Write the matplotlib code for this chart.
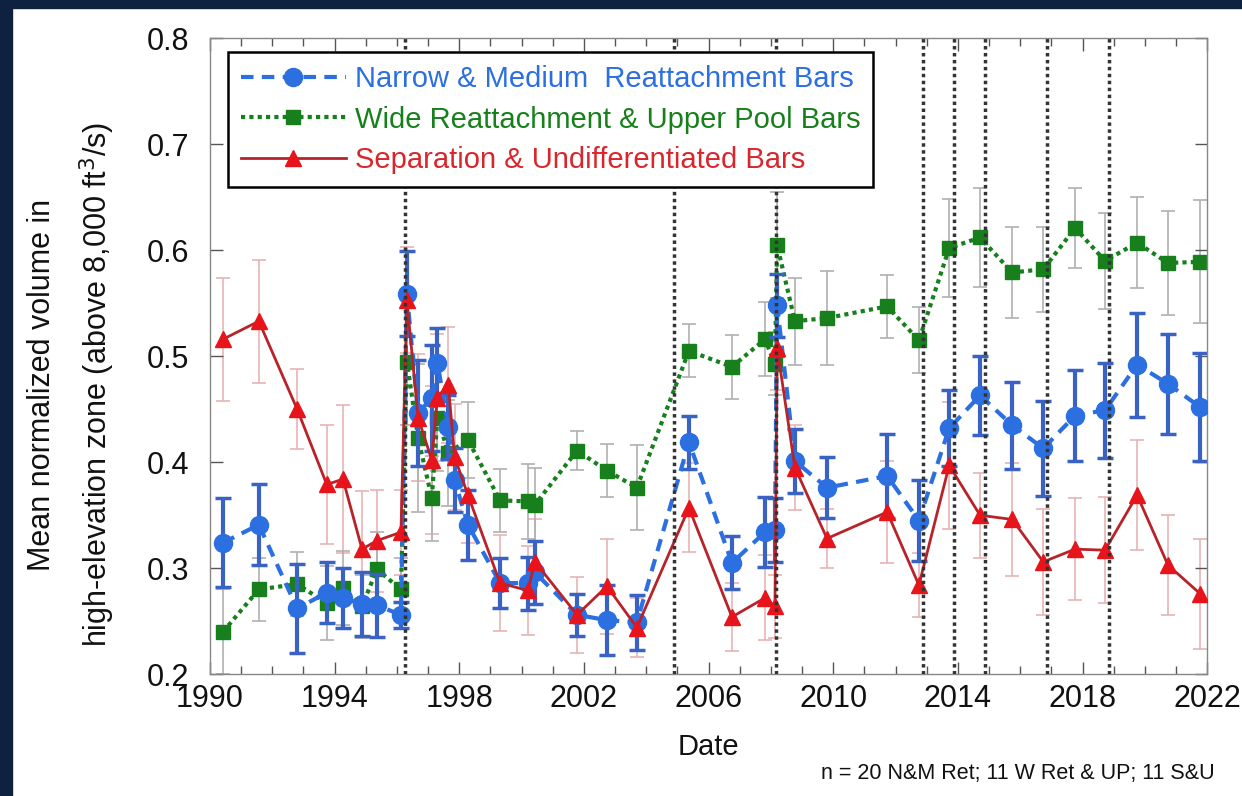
import matplotlib
matplotlib.use("Agg")
import matplotlib.pyplot as plt
from matplotlib.lines import Line2D
from matplotlib.patches import Rectangle

plt.rcParams['font.family'] = ['Liberation Sans', 'DejaVu Sans']

# -----------------------------
# data
# -----------------------------
nm_dates = [1990.42, 1991.57, 1992.80, 1993.75, 1994.27, 1994.88, 1995.36, 1996.13,
            1996.32, 1996.68, 1997.12, 1997.30, 1997.65, 1997.85, 1998.28, 1999.31,
            2000.20, 2000.43, 2001.78, 2002.74, 2003.70, 2005.37, 2006.75, 2007.81,
            2008.13, 2008.20, 2008.77, 2009.80, 2011.73, 2012.75, 2013.72, 2014.71,
            2015.74, 2016.74, 2017.76, 2018.72, 2019.75, 2020.74, 2021.77]
nm_vals = [0.324, 0.341, 0.262, 0.277, 0.272, 0.266, 0.265, 0.256, 0.559, 0.446,
           0.461, 0.494, 0.433, 0.383, 0.341, 0.286, 0.286, 0.296, 0.256, 0.251,
           0.249, 0.419, 0.305, 0.334, 0.336, 0.548, 0.401, 0.376, 0.387, 0.345,
           0.432, 0.463, 0.435, 0.413, 0.444, 0.449, 0.492, 0.474, 0.452]
nm_err = [0.042, 0.038, 0.042, 0.029, 0.028, 0.030, 0.030, 0.012, 0.040, 0.050,
          0.050, 0.033, 0.030, 0.030, 0.033, 0.024, 0.025, 0.030, 0.020, 0.033,
          0.026, 0.025, 0.025, 0.033, 0.030, 0.030, 0.030, 0.029, 0.040, 0.038,
          0.036, 0.037, 0.041, 0.045, 0.043, 0.045, 0.049, 0.047, 0.051]

wr_dates = [1990.42, 1991.57, 1992.80, 1993.75, 1994.27, 1994.88, 1995.36, 1996.13,
            1996.32, 1996.68, 1997.12, 1997.30, 1997.65, 1998.28, 1999.31, 2000.20,
            2000.43, 2001.78, 2002.74, 2003.70, 2005.37, 2006.75, 2007.81, 2008.13,
            2008.20, 2008.77, 2009.80, 2011.73, 2012.75, 2013.72, 2014.71, 2015.74,
            2016.74, 2017.76, 2018.72, 2019.75, 2020.74, 2021.77]
wr_vals = [0.240, 0.280, 0.285, 0.267, 0.281, 0.264, 0.299, 0.280, 0.495, 0.423,
           0.366, 0.442, 0.409, 0.421, 0.364, 0.363, 0.360, 0.411, 0.392, 0.376,
           0.505, 0.490, 0.516, 0.493, 0.605, 0.533, 0.536, 0.547, 0.515, 0.602,
           0.612, 0.579, 0.582, 0.621, 0.590, 0.607, 0.588, 0.589]
wr_err = [0.040, 0.030, 0.030, 0.035, 0.035, 0.030, 0.035, 0.030, 0.060, 0.070,
          0.040, 0.050, 0.050, 0.036, 0.030, 0.035, 0.035, 0.018, 0.025, 0.040,
          0.025, 0.030, 0.035, 0.030, 0.050, 0.041, 0.044, 0.030, 0.031, 0.046,
          0.047, 0.043, 0.040, 0.038, 0.045, 0.043, 0.049, 0.058]

su_dates = nm_dates
su_vals = [0.516, 0.533, 0.450, 0.379, 0.384, 0.318, 0.326, 0.334, 0.553, 0.442,
           0.402, 0.461, 0.473, 0.405, 0.369, 0.286, 0.279, 0.306, 0.256, 0.283,
           0.244, 0.357, 0.254, 0.272, 0.264, 0.508, 0.395, 0.328, 0.353, 0.284,
           0.397, 0.350, 0.346, 0.306, 0.318, 0.317, 0.369, 0.303, 0.276]
su_err = [0.058, 0.058, 0.038, 0.056, 0.070, 0.055, 0.048, 0.040, 0.050, 0.060,
          0.070, 0.060, 0.055, 0.050, 0.045, 0.045, 0.042, 0.040, 0.036, 0.045,
          0.028, 0.042, 0.032, 0.040, 0.030, 0.040, 0.040, 0.028, 0.048, 0.030,
          0.060, 0.040, 0.053, 0.050, 0.048, 0.050, 0.052, 0.047, 0.052]

# high-flow experiments (vertical dotted lines)
hfe_dates = [1996.26, 2004.89, 2008.16, 2012.88, 2013.87, 2014.86, 2016.86, 2018.84]

labels = ["Narrow & Medium  Reattachment Bars",
          "Wide Reattachment & Upper Pool Bars",
          "Separation & Undifferentiated Bars"]

# -----------------------------
# colours
# -----------------------------
blue = "#2b6fe0"
blue_err = "#3a62c4"
green = "#17801c"
red_mk = "#e8141c"
red_ln = "#b8232a"

fig = plt.figure(figsize=(12.42, 7.96), dpi=100)
ax = fig.add_axes([0.169, 0.153, 0.803, 0.799])

# error bars
ax.errorbar(su_dates, su_vals, yerr=su_err, fmt='none', ecolor="#e6b4b4",
            elinewidth=1.2, capsize=5, capthick=1.2, zorder=1)
ax.errorbar(wr_dates, wr_vals, yerr=wr_err, fmt='none', ecolor="#b0b0b0",
            elinewidth=1.2, capsize=5, capthick=1.2, zorder=1.1)

# green series
ax.plot(wr_dates, wr_vals, color=green, linestyle=(0, (1, 1)), linewidth=3,
        marker='s', markersize=10, markerfacecolor=green, markeredgecolor=green, zorder=2)

# blue series
ax.errorbar(nm_dates, nm_vals, yerr=nm_err, fmt='none', ecolor=blue_err,
            elinewidth=3, capsize=6, capthick=2.5, zorder=2.5)
ax.plot(nm_dates, nm_vals, color=blue, linestyle=(0, (3, 2)), linewidth=3,
        marker='o', markersize=13, markerfacecolor=blue, markeredgecolor=blue, zorder=3)

# red series
ax.plot(su_dates, su_vals, color=red_ln, linestyle='-', linewidth=2,
        marker='^', markersize=11, markerfacecolor=red_mk, markeredgecolor=red_mk, zorder=3.5)

# HFE lines
for d in hfe_dates:
    ax.axvline(d, color="#333333", linestyle=(0, (1, 1)), linewidth=2.5, zorder=4)

# -----------------------------
# axes
# -----------------------------
ax.set_xlim(1990, 2022)
ax.set_ylim(0.2, 0.8)
ax.set_xticks(range(1990, 2023, 4))
ax.set_xticks(range(1990, 2023, 1), minor=True)
ax.set_yticks([0.2, 0.3, 0.4, 0.5, 0.6, 0.7, 0.8])
ax.set_yticklabels(["0.2", "0.3", "0.4", "0.5", "0.6", "0.7", "0.8"])
ax.tick_params(which='both', direction='in', top=True, right=True, colors="#555555",
               labelcolor="#111111", labelsize=22)
ax.tick_params(axis='y', pad=15)
ax.tick_params(axis='x', pad=7)
ax.tick_params(which='major', length=9, width=1)
ax.tick_params(which='minor', length=6, width=1)
for s in ax.spines.values():
    s.set_color("#888888")
    s.set_linewidth(1)

ax.set_xlabel("Date", fontsize=21, color="#111111", labelpad=14)
ax.set_ylabel("Mean normalized volume in\nhigh-elevation zone (above 8,000 ft$^3$/s)",
              fontsize=22, color="#111111", linespacing=1.7)
ax.yaxis.set_label_coords(-0.093, 0.455)

handles = [
    Line2D([], [], color=blue, linestyle=(0, (3, 2)), linewidth=3, marker='o', markersize=13),
    Line2D([], [], color=green, linestyle=(0, (1, 1)), linewidth=3, marker='s', markersize=10),
    Line2D([], [], color=red_ln, linestyle='-', linewidth=2, marker='^', markersize=11,
           markerfacecolor=red_mk, markeredgecolor=red_mk),
]
leg = ax.legend(handles, labels, loc='upper left', bbox_to_anchor=(0.018, 0.978),
                borderaxespad=0, fontsize=21, handlelength=3.6, handletextpad=0.3,
                labelspacing=0.42, borderpad=0.45, fancybox=False, framealpha=1)
leg.get_frame().set_edgecolor("black")
leg.get_frame().set_linewidth(1.8)
leg.set_zorder(6)
for txt, c in zip(leg.get_texts(), [blue, green, "#d9262c"]):
    txt.set_color(c)

fig.text(0.978, 0.028, "n = 20 N&M Ret; 11 W Ret & UP; 11 S&U", ha='right', va='center',
         fontsize=15.5, color="#111111")

# dark frame on the left and top edge
fig.patches.append(Rectangle((0, 0), 12 / 1242, 1, transform=fig.transFigure,
                             color="#0e2240", zorder=10))
fig.patches.append(Rectangle((0, 1 - 8 / 796), 1, 8 / 796, transform=fig.transFigure,
                             color="#0e2240", zorder=10))

fig.savefig("out.png", dpi=100, facecolor="white")
